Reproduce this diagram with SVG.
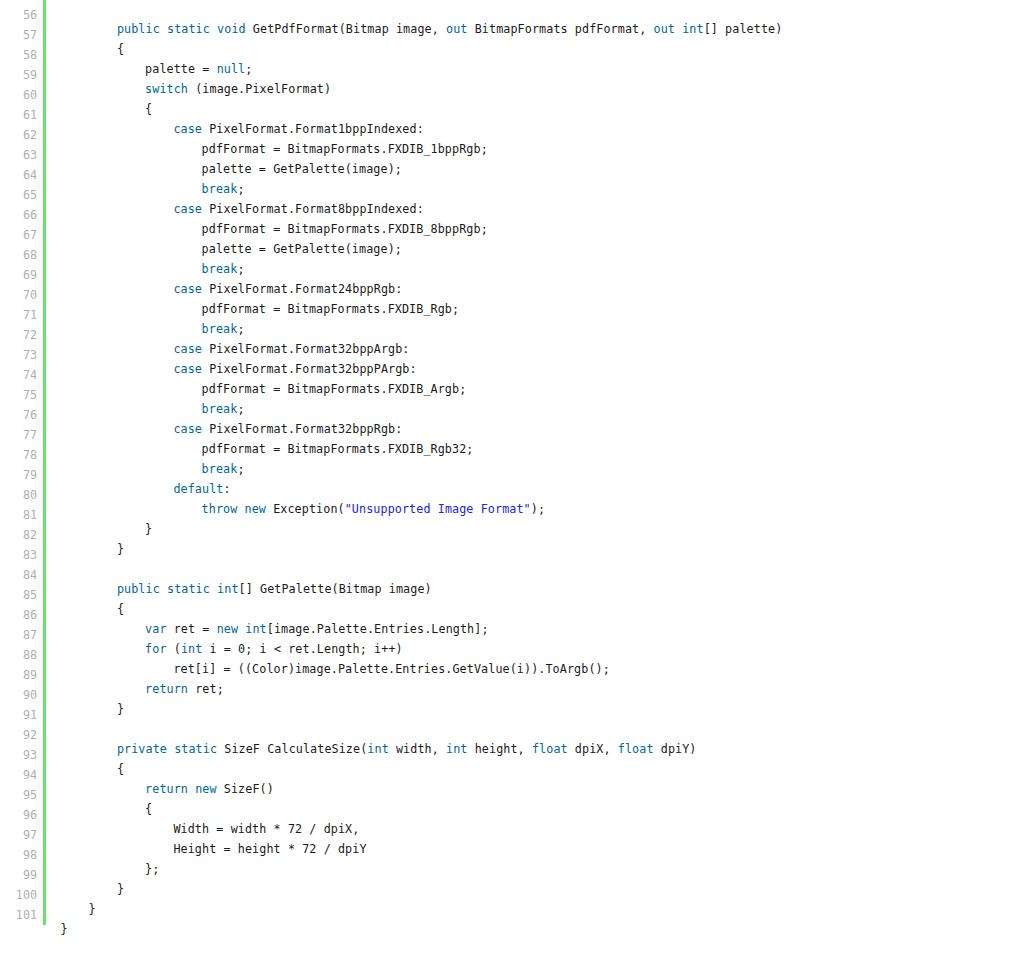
<svg xmlns="http://www.w3.org/2000/svg" width="1026" height="970" viewBox="0 0 1026 970">
<style>
text{font-family:"DejaVu Sans Mono","Liberation Mono",monospace;font-size:11.73px;white-space:pre}
.c{fill:#1a1a1a;letter-spacing:0.1px}
.n{fill:#afafaf;text-anchor:end}
.k{fill:#006699}
.s{fill:#2222e0}
</style>
<rect x="0" y="0" width="1026" height="970" fill="#ffffff"/>
<rect x="43" y="0" width="3" height="925" fill="#6ce26c"/>
<g id="gutter">
<text class="n" x="37" y="19">56</text>
<text class="n" x="37" y="39">57</text>
<text class="n" x="37" y="59">58</text>
<text class="n" x="37" y="79">59</text>
<text class="n" x="37" y="99">60</text>
<text class="n" x="37" y="119">61</text>
<text class="n" x="37" y="139">62</text>
<text class="n" x="37" y="159">63</text>
<text class="n" x="37" y="179">64</text>
<text class="n" x="37" y="199">65</text>
<text class="n" x="37" y="219">66</text>
<text class="n" x="37" y="239">67</text>
<text class="n" x="37" y="259">68</text>
<text class="n" x="37" y="279">69</text>
<text class="n" x="37" y="299">70</text>
<text class="n" x="37" y="319">71</text>
<text class="n" x="37" y="339">72</text>
<text class="n" x="37" y="359">73</text>
<text class="n" x="37" y="379">74</text>
<text class="n" x="37" y="399">75</text>
<text class="n" x="37" y="419">76</text>
<text class="n" x="37" y="439">77</text>
<text class="n" x="37" y="459">78</text>
<text class="n" x="37" y="479">79</text>
<text class="n" x="37" y="499">80</text>
<text class="n" x="37" y="519">81</text>
<text class="n" x="37" y="539">82</text>
<text class="n" x="37" y="559">83</text>
<text class="n" x="37" y="579">84</text>
<text class="n" x="37" y="599">85</text>
<text class="n" x="37" y="619">86</text>
<text class="n" x="37" y="639">87</text>
<text class="n" x="37" y="659">88</text>
<text class="n" x="37" y="679">89</text>
<text class="n" x="37" y="699">90</text>
<text class="n" x="37" y="719">91</text>
<text class="n" x="37" y="739">92</text>
<text class="n" x="37" y="759">93</text>
<text class="n" x="37" y="779">94</text>
<text class="n" x="37" y="799">95</text>
<text class="n" x="37" y="819">96</text>
<text class="n" x="37" y="839">97</text>
<text class="n" x="37" y="859">98</text>
<text class="n" x="37" y="879">99</text>
<text class="n" x="37" y="899">100</text>
<text class="n" x="37" y="919">101</text>
</g>
<g id="code">
<text class="c" x="116.9" y="33"><tspan class="k">public static void</tspan> GetPdfFormat(Bitmap image, <tspan class="k">out</tspan> BitmapFormats pdfFormat, <tspan class="k">out int</tspan>[] palette)</text>
<text class="c" x="116.9" y="53">{</text>
<text class="c" x="145.1" y="73">palette = <tspan class="k">null</tspan>;</text>
<text class="c" x="145.1" y="93"><tspan class="k">switch</tspan> (image.PixelFormat)</text>
<text class="c" x="145.1" y="113">{</text>
<text class="c" x="173.4" y="133"><tspan class="k">case</tspan> PixelFormat.Format1bppIndexed:</text>
<text class="c" x="201.6" y="153">pdfFormat = BitmapFormats.FXDIB_1bppRgb;</text>
<text class="c" x="201.6" y="173">palette = GetPalette(image);</text>
<text class="c" x="201.6" y="193"><tspan class="k">break</tspan>;</text>
<text class="c" x="173.4" y="213"><tspan class="k">case</tspan> PixelFormat.Format8bppIndexed:</text>
<text class="c" x="201.6" y="233">pdfFormat = BitmapFormats.FXDIB_8bppRgb;</text>
<text class="c" x="201.6" y="253">palette = GetPalette(image);</text>
<text class="c" x="201.6" y="273"><tspan class="k">break</tspan>;</text>
<text class="c" x="173.4" y="293"><tspan class="k">case</tspan> PixelFormat.Format24bppRgb:</text>
<text class="c" x="201.6" y="313">pdfFormat = BitmapFormats.FXDIB_Rgb;</text>
<text class="c" x="201.6" y="333"><tspan class="k">break</tspan>;</text>
<text class="c" x="173.4" y="353"><tspan class="k">case</tspan> PixelFormat.Format32bppArgb:</text>
<text class="c" x="173.4" y="373"><tspan class="k">case</tspan> PixelFormat.Format32bppPArgb:</text>
<text class="c" x="201.6" y="393">pdfFormat = BitmapFormats.FXDIB_Argb;</text>
<text class="c" x="201.6" y="413"><tspan class="k">break</tspan>;</text>
<text class="c" x="173.4" y="433"><tspan class="k">case</tspan> PixelFormat.Format32bppRgb:</text>
<text class="c" x="201.6" y="453">pdfFormat = BitmapFormats.FXDIB_Rgb32;</text>
<text class="c" x="201.6" y="473"><tspan class="k">break</tspan>;</text>
<text class="c" x="173.4" y="493"><tspan class="k">default</tspan>:</text>
<text class="c" x="201.6" y="513"><tspan class="k">throw new</tspan> Exception(<tspan class="s">"Unsupported Image Format"</tspan>);</text>
<text class="c" x="145.1" y="533">}</text>
<text class="c" x="116.9" y="553">}</text>
<text class="c" x="116.9" y="593"><tspan class="k">public static int</tspan>[] GetPalette(Bitmap image)</text>
<text class="c" x="116.9" y="613">{</text>
<text class="c" x="145.1" y="633"><tspan class="k">var</tspan> ret = <tspan class="k">new int</tspan>[image.Palette.Entries.Length];</text>
<text class="c" x="145.1" y="653"><tspan class="k">for</tspan> (<tspan class="k">int</tspan> i = 0; i &lt; ret.Length; i++)</text>
<text class="c" x="173.4" y="673">ret[i] = ((Color)image.Palette.Entries.GetValue(i)).ToArgb();</text>
<text class="c" x="145.1" y="693"><tspan class="k">return</tspan> ret;</text>
<text class="c" x="116.9" y="713">}</text>
<text class="c" x="116.9" y="753"><tspan class="k">private static</tspan> SizeF CalculateSize(<tspan class="k">int</tspan> width, <tspan class="k">int</tspan> height, <tspan class="k">float</tspan> dpiX, <tspan class="k">float</tspan> dpiY)</text>
<text class="c" x="116.9" y="773">{</text>
<text class="c" x="145.1" y="793"><tspan class="k">return new</tspan> SizeF()</text>
<text class="c" x="145.1" y="813">{</text>
<text class="c" x="173.4" y="833">Width = width * 72 / dpiX,</text>
<text class="c" x="173.4" y="853">Height = height * 72 / dpiY</text>
<text class="c" x="145.1" y="873">};</text>
<text class="c" x="116.9" y="893">}</text>
<text class="c" x="88.6" y="913">}</text>
<text class="c" x="60.4" y="933">}</text>
</g>
</svg>
